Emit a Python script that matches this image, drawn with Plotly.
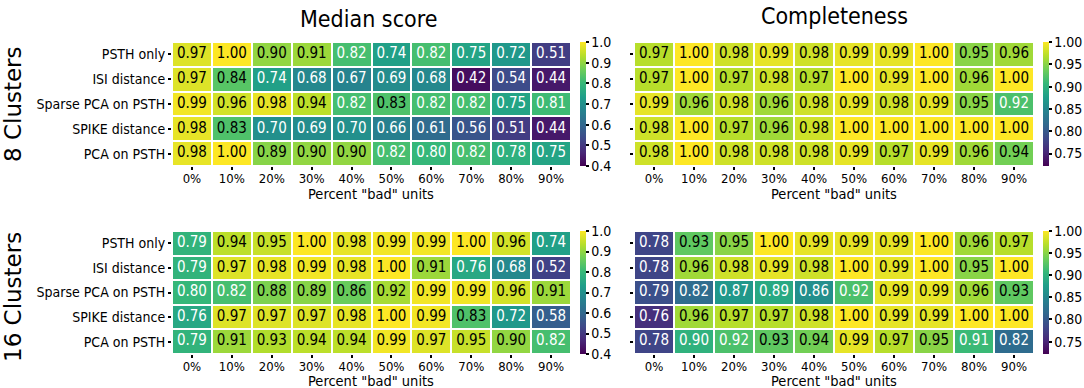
import plotly.graph_objects as go

methods = ["PSTH only", "ISI distance", "Sparse PCA on PSTH", "SPIKE distance", "PCA on PSTH"]
percent_bad = ["0%", "10%", "20%", "30%", "40%", "50%", "60%", "70%", "80%", "90%"]

median_8 = [
    [0.97, 1.00, 0.90, 0.91, 0.82, 0.74, 0.82, 0.75, 0.72, 0.51],
    [0.97, 0.84, 0.74, 0.68, 0.67, 0.69, 0.68, 0.42, 0.54, 0.44],
    [0.99, 0.96, 0.98, 0.94, 0.82, 0.83, 0.82, 0.82, 0.75, 0.81],
    [0.98, 0.83, 0.70, 0.69, 0.70, 0.66, 0.61, 0.56, 0.51, 0.44],
    [0.98, 1.00, 0.89, 0.90, 0.90, 0.82, 0.80, 0.82, 0.78, 0.75],
]
complete_8 = [
    [0.97, 1.00, 0.98, 0.99, 0.98, 0.99, 0.99, 1.00, 0.95, 0.96],
    [0.97, 1.00, 0.97, 0.98, 0.97, 1.00, 0.99, 1.00, 0.96, 1.00],
    [0.99, 0.96, 0.98, 0.96, 0.98, 0.99, 0.98, 0.99, 0.95, 0.92],
    [0.98, 1.00, 0.97, 0.96, 0.98, 1.00, 1.00, 1.00, 1.00, 1.00],
    [0.98, 1.00, 0.98, 0.98, 0.98, 0.99, 0.97, 0.99, 0.96, 0.94],
]
median_16 = [
    [0.79, 0.94, 0.95, 1.00, 0.98, 0.99, 0.99, 1.00, 0.96, 0.74],
    [0.79, 0.97, 0.98, 0.99, 0.98, 1.00, 0.91, 0.76, 0.68, 0.52],
    [0.80, 0.82, 0.88, 0.89, 0.86, 0.92, 0.99, 0.99, 0.96, 0.91],
    [0.76, 0.97, 0.97, 0.97, 0.98, 1.00, 0.99, 0.83, 0.72, 0.58],
    [0.79, 0.91, 0.93, 0.94, 0.94, 0.99, 0.97, 0.95, 0.90, 0.82],
]
complete_16 = [
    [0.78, 0.93, 0.95, 1.00, 0.99, 0.99, 0.99, 1.00, 0.96, 0.97],
    [0.78, 0.96, 0.98, 0.99, 0.98, 1.00, 0.99, 1.00, 0.95, 1.00],
    [0.79, 0.82, 0.87, 0.89, 0.86, 0.92, 0.99, 0.99, 0.96, 0.93],
    [0.76, 0.96, 0.97, 0.97, 0.98, 1.00, 0.99, 0.99, 1.00, 1.00],
    [0.78, 0.90, 0.92, 0.93, 0.94, 0.99, 0.97, 0.95, 0.91, 0.82],
]

W, H = 1084, 388
FONT = "DejaVu Sans Condensed, DejaVu Sans"
FONT_N = "DejaVu Sans"

def dx(a, b):
    return [a / W, b / W]

def dy(top, bot):
    return [1 - bot / H, 1 - top / H]

# (data, zmin, zmax, tick0, dtick, fmt, x-pixels, y-pixels, show y labels, colorbar x)
panels = [
    (median_8, 0.4, 1.0, 0.4, 0.1, ".1f", (172, 571), (42, 166), True, 580),
    (complete_8, 0.722, 1.0, 0.75, 0.05, ".2f", (634, 1034), (42, 166), False, 1043),
    (median_16, 0.4, 1.0, 0.4, 0.1, ".1f", (172, 571), (231, 354), True, 580),
    (complete_16, 0.722, 1.0, 0.75, 0.05, ".2f", (634, 1034), (231, 354), False, 1043),
]

fig = go.Figure()
layout = dict(
    width=W, height=H, margin=dict(l=0, r=0, t=0, b=0),
    paper_bgcolor="white", plot_bgcolor="white",
    font=dict(family=FONT, size=14, color="black"),
    showlegend=False,
)

for i, (z, zmin, zmax, t0, dt, fmt, xp, yp, showy, cbx) in enumerate(panels, start=1):
    xa = "x" if i == 1 else f"x{i}"
    ya = "y" if i == 1 else f"y{i}"
    cy = 1 - ((yp[0] + yp[1]) / 2) / H
    fig.add_trace(go.Heatmap(
        z=z, x=percent_bad, y=methods, xaxis=xa, yaxis=ya,
        colorscale="Viridis", zmin=zmin, zmax=zmax,
        xgap=2, ygap=2,
        colorbar=dict(
            x=cbx / W, xanchor="left", y=cy, yanchor="middle",
            len=yp[1] - yp[0], lenmode="pixels",
            thickness=6, thicknessmode="pixels",
            outlinewidth=0, xpad=0, ypad=0,
            ticks="outside", ticklen=3, tickwidth=2, tickcolor="black",
            tick0=t0, dtick=dt, tickformat=fmt,
            tickfont=dict(family=FONT, size=14, color="black"),
        ),
        hoverinfo="skip",
    ))
    xs, ys, txt, cols = [], [], [], []
    for r, m in enumerate(methods):
        for c, p in enumerate(percent_bad):
            v = z[r][c]
            xs.append(p)
            ys.append(m)
            txt.append(f"{v:.2f}")
            norm = (v - zmin) / (zmax - zmin)
            cols.append("black" if norm > 0.713 else "white")
    fig.add_trace(go.Scatter(
        x=xs, y=ys, xaxis=xa, yaxis=ya, mode="text", text=txt,
        textfont=dict(family=FONT, size=15, color=cols),
        hoverinfo="skip",
    ))
    layout["xaxis" if i == 1 else f"xaxis{i}"] = dict(
        domain=dx(*xp), anchor=ya, type="category",
        categoryorder="array", categoryarray=percent_bad,
        range=[-0.5, 9.5], showgrid=False, zeroline=False, showline=False,
        ticks="outside", ticklen=3, tickwidth=2, tickcolor="black",
        ticklabelstandoff=-3,
        tickfont=dict(family=FONT, size=13), fixedrange=True,
    )
    layout["yaxis" if i == 1 else f"yaxis{i}"] = dict(
        domain=dy(*yp), anchor=xa, type="category",
        categoryorder="array", categoryarray=methods,
        range=[4.5, -0.5], showgrid=False, zeroline=False, showline=False,
        ticks="outside", ticklen=3, tickwidth=2, tickcolor="black",
        showticklabels=showy, tickfont=dict(family=FONT, size=14), fixedrange=True,
    )

annotations = []
def ann(text, xpx, ypx, size, angle=0, family=FONT):
    annotations.append(dict(
        text=text, x=xpx / W, y=1 - ypx / H, xref="paper", yref="paper",
        xanchor="center", yanchor="middle", showarrow=False, textangle=angle,
        font=dict(family=family, size=size, color="black"),
    ))

ann("Median score", 368, 19, 23)
ann("Completeness", 835, 16, 23)
ann('Percent "bad" units', 371, 194, 14.5)
ann('Percent "bad" units', 834, 194, 14.5)
ann('Percent "bad" units', 371, 381, 14.5)
ann('Percent "bad" units', 834, 381, 14.5)
ann("8 Clusters", 13, 104, 23, -90, FONT_N)
ann("16 Clusters", 13, 297, 23, -90, FONT_N)
layout["annotations"] = annotations

fig.update_layout(**layout)
fig.write_html(
    "out.html",
    config={"displayModeBar": False},
    post_script="document.body.style.margin='0';document.body.style.overflow='hidden';",
)
